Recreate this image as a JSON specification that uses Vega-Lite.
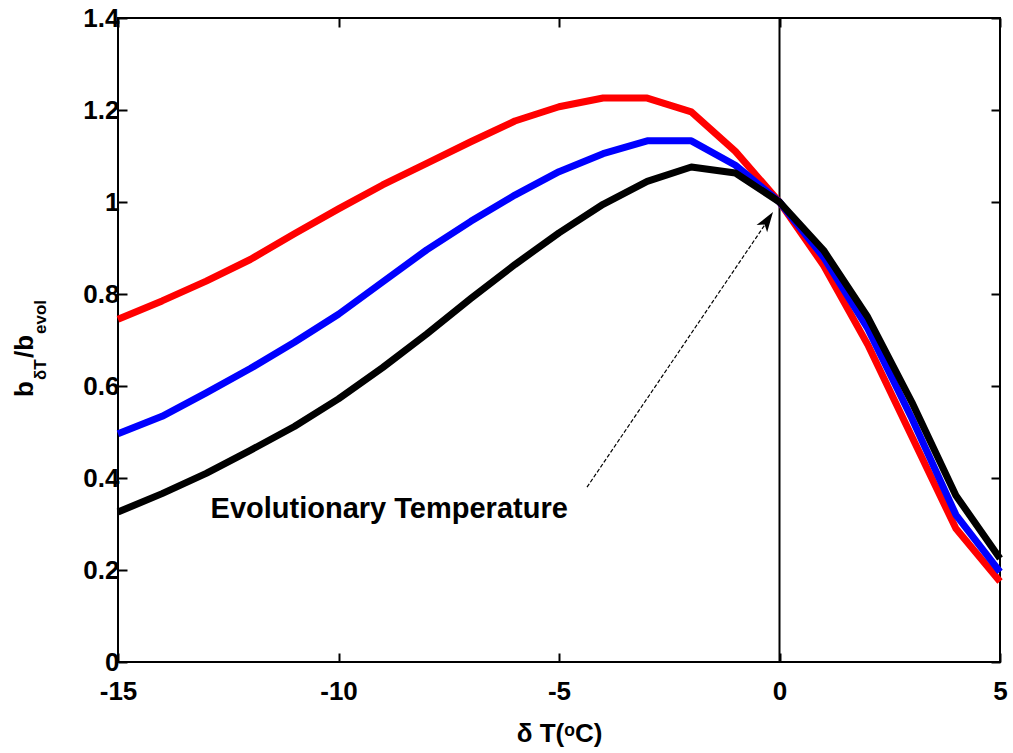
{
  "$schema": "https://vega.github.io/schema/vega-lite/v6.json",
  "width": 882,
  "height": 644,
  "autosize": "none",
  "padding": {"left": 118, "top": 18, "right": 13, "bottom": 91},
  "background": "white",
  "config": {
    "view": {"stroke": "black", "strokeWidth": 2},
    "font": "Liberation Sans",
    "axis": {
      "labelFont": "Liberation Sans",
      "labelFontWeight": "bold",
      "labelFontSize": 26,
      "labelColor": "black",
      "labelFlush": false,
      "labelOverlap": false,
      "tickColor": "black",
      "tickWidth": 2,
      "tickSize": -9,
      "domain": false,
      "grid": false,
      "titleFont": "Liberation Sans",
      "titleFontWeight": "bold",
      "titleFontSize": 26,
      "titleColor": "black"
    }
  },
  "datasets": {
    "curves": [
      {"series": "S1", "dT": -15, "b": 0.745},
      {"series": "S1", "dT": -14, "b": 0.785},
      {"series": "S1", "dT": -13, "b": 0.828},
      {"series": "S1", "dT": -12, "b": 0.875},
      {"series": "S1", "dT": -11, "b": 0.931},
      {"series": "S1", "dT": -10, "b": 0.985},
      {"series": "S1", "dT": -9, "b": 1.037},
      {"series": "S1", "dT": -8, "b": 1.084},
      {"series": "S1", "dT": -7, "b": 1.131},
      {"series": "S1", "dT": -6, "b": 1.176},
      {"series": "S1", "dT": -5, "b": 1.207},
      {"series": "S1", "dT": -4, "b": 1.226},
      {"series": "S1", "dT": -3, "b": 1.226},
      {"series": "S1", "dT": -2, "b": 1.196},
      {"series": "S1", "dT": -1, "b": 1.11},
      {"series": "S1", "dT": 0, "b": 1.0},
      {"series": "S1", "dT": 1, "b": 0.862},
      {"series": "S1", "dT": 2, "b": 0.69},
      {"series": "S1", "dT": 3, "b": 0.49},
      {"series": "S1", "dT": 4, "b": 0.29},
      {"series": "S1", "dT": 5, "b": 0.175},
      {"series": "S2", "dT": -15, "b": 0.496},
      {"series": "S2", "dT": -14, "b": 0.534},
      {"series": "S2", "dT": -13, "b": 0.585},
      {"series": "S2", "dT": -12, "b": 0.638},
      {"series": "S2", "dT": -11, "b": 0.695},
      {"series": "S2", "dT": -10, "b": 0.756},
      {"series": "S2", "dT": -9, "b": 0.826},
      {"series": "S2", "dT": -8, "b": 0.896},
      {"series": "S2", "dT": -7, "b": 0.958},
      {"series": "S2", "dT": -6, "b": 1.015},
      {"series": "S2", "dT": -5, "b": 1.066},
      {"series": "S2", "dT": -4, "b": 1.105},
      {"series": "S2", "dT": -3, "b": 1.133},
      {"series": "S2", "dT": -2, "b": 1.133},
      {"series": "S2", "dT": -1, "b": 1.08},
      {"series": "S2", "dT": 0, "b": 1.0},
      {"series": "S2", "dT": 1, "b": 0.88},
      {"series": "S2", "dT": 2, "b": 0.725},
      {"series": "S2", "dT": 3, "b": 0.53},
      {"series": "S2", "dT": 4, "b": 0.32},
      {"series": "S2", "dT": 5, "b": 0.196},
      {"series": "S3", "dT": -15, "b": 0.326},
      {"series": "S3", "dT": -14, "b": 0.366},
      {"series": "S3", "dT": -13, "b": 0.41},
      {"series": "S3", "dT": -12, "b": 0.46},
      {"series": "S3", "dT": -11, "b": 0.512},
      {"series": "S3", "dT": -10, "b": 0.572},
      {"series": "S3", "dT": -9, "b": 0.64},
      {"series": "S3", "dT": -8, "b": 0.713},
      {"series": "S3", "dT": -7, "b": 0.79},
      {"series": "S3", "dT": -6, "b": 0.864},
      {"series": "S3", "dT": -5, "b": 0.933},
      {"series": "S3", "dT": -4, "b": 0.995},
      {"series": "S3", "dT": -3, "b": 1.045},
      {"series": "S3", "dT": -2, "b": 1.076},
      {"series": "S3", "dT": -1, "b": 1.063},
      {"series": "S3", "dT": 0, "b": 1.0},
      {"series": "S3", "dT": 1, "b": 0.895},
      {"series": "S3", "dT": 2, "b": 0.75},
      {"series": "S3", "dT": 3, "b": 0.565},
      {"series": "S3", "dT": 4, "b": 0.362},
      {"series": "S3", "dT": 5, "b": 0.225}
    ]
  },
  "layer": [
    {
      "data": {"values": [{"x": 0, "y": 0, "y2": 1.4}]},
      "mark": {"type": "rule", "color": "black", "strokeWidth": 2},
      "encoding": {
        "x": {"field": "x", "type": "quantitative", "scale": {"domain": [-15, 5], "nice": false, "zero": false},
              "axis": {"orient": "top", "labels": false, "title": null, "values": [-15, -10, -5, 0, 5]}},
        "y": {"field": "y", "type": "quantitative", "scale": {"domain": [0, 1.4], "nice": false},
              "axis": {"orient": "right", "labels": false, "title": null, "values": [0, 0.2, 0.4, 0.6, 0.8, 1, 1.2, 1.4]}},
        "y2": {"field": "y2"}
      }
    },
    {
      "data": {"name": "curves"},
      "mark": {"type": "line", "strokeWidth": 7, "strokeJoin": "round"},
      "encoding": {
        "x": {"field": "dT", "type": "quantitative",
              "axis": {"orient": "bottom", "title": "δ T(ᵒC)", "values": [-15, -10, -5, 0, 5], "labelExpr": "'' + datum.value", "labelPadding": 25, "titlePadding": 16}},
        "y": {"field": "b", "type": "quantitative",
              "axis": {"orient": "left", "title": null, "values": [0, 0.2, 0.4, 0.6, 0.8, 1, 1.2, 1.4], "format": "~g", "labelPadding": 8}},
        "color": {"field": "series", "type": "nominal", "scale": {"domain": ["S1", "S2", "S3"], "range": ["#ff0000", "#0000ff", "#000000"]}, "legend": null}
      }
    },
    {
      "data": {"values": [{"x": -4.365, "y": 0.38, "x2": -0.3, "y2": 0.955}]},
      "mark": {"type": "rule", "color": "black", "strokeWidth": 1.2, "strokeDash": [4, 2]},
      "encoding": {
        "x": {"field": "x", "type": "quantitative", "axis": null},
        "y": {"field": "y", "type": "quantitative", "axis": null},
        "x2": {"field": "x2"},
        "y2": {"field": "y2"}
      }
    },
    {
      "data": {"values": [{"x": -0.147, "y": 0.978}]},
      "mark": {"type": "point", "shape": "M0,0 L-0.32,1 L0,0.75 L0.32,1 Z", "filled": true, "color": "black", "opacity": 1, "size": 1600, "angle": 34},
      "encoding": {
        "x": {"field": "x", "type": "quantitative", "axis": null},
        "y": {"field": "y", "type": "quantitative", "axis": null}
      }
    },
    {
      "data": {"values": [{"x": -8.85, "y": 0.313, "label": "Evolutionary Temperature"}]},
      "mark": {"type": "text", "font": "Liberation Sans", "fontWeight": "bold", "fontSize": 29, "align": "center", "baseline": "alphabetic", "color": "black"},
      "encoding": {
        "x": {"field": "x", "type": "quantitative", "axis": null},
        "y": {"field": "y", "type": "quantitative", "axis": null},
        "text": {"field": "label"}
      }
    },
    {
      "data": {"values": [{"x": -16.93, "y": 0.576, "label": "b"}, {"x": -16.93, "y": 0.661, "label": "/b"}]},
      "mark": {"type": "text", "font": "Liberation Sans", "fontWeight": "bold", "fontSize": 26, "align": "left", "baseline": "alphabetic", "angle": 270, "color": "black"},
      "encoding": {
        "x": {"field": "x", "type": "quantitative", "axis": null},
        "y": {"field": "y", "type": "quantitative", "axis": null},
        "text": {"field": "label"}
      }
    },
    {
      "data": {"values": [{"x": -16.64, "y": 0.613, "label": "δT"}, {"x": -16.64, "y": 0.713, "label": "evol"}]},
      "mark": {"type": "text", "font": "Liberation Sans", "fontWeight": "bold", "fontSize": 17, "align": "left", "baseline": "alphabetic", "angle": 270, "color": "black"},
      "encoding": {
        "x": {"field": "x", "type": "quantitative", "axis": null},
        "y": {"field": "y", "type": "quantitative", "axis": null},
        "text": {"field": "label"}
      }
    }
  ],
  "resolve": {"axis": {"x": "independent", "y": "independent"}}
}
